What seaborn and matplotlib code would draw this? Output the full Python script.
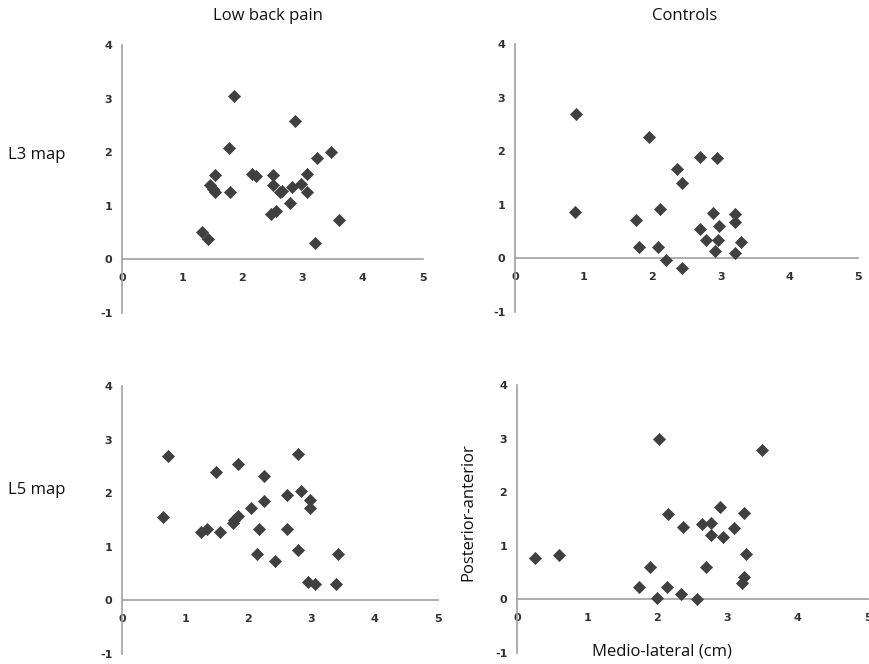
import matplotlib
matplotlib.use("Agg")
import matplotlib.pyplot as plt
import seaborn as sns
import pandas as pd

# medio-lateral (x) and posterior-anterior (y) positions, cm
lbp_l3_x = [1.86, 2.87, 1.78, 3.48, 3.24, 1.55, 2.16, 2.23, 2.51, 3.07, 1.47, 1.51, 1.55, 1.80,
            2.51, 2.62, 2.66, 2.82, 2.98, 3.07, 2.79, 2.48, 2.56, 3.61, 1.33, 1.43, 3.21]
lbp_l3_y = [3.05, 2.59, 2.07, 2.00, 1.89, 1.57, 1.60, 1.56, 1.57, 1.60, 1.39, 1.31, 1.25, 1.26,
            1.39, 1.26, 1.27, 1.36, 1.41, 1.25, 1.05, 0.85, 0.91, 0.73, 0.52, 0.38, 0.31]

ctl_l3_x = [0.89, 0.88, 1.95, 2.70, 2.94, 2.36, 2.44, 2.12, 1.76, 2.88, 3.21, 3.21, 2.70, 2.98,
            2.78, 2.96, 3.29, 1.81, 2.08, 2.92, 3.21, 2.20, 2.44]
ctl_l3_y = [2.69, 0.87, 2.27, 1.90, 1.87, 1.67, 1.40, 0.92, 0.72, 0.85, 0.82, 0.68, 0.55, 0.60,
            0.34, 0.34, 0.31, 0.21, 0.21, 0.14, 0.11, -0.03, -0.17]

lbp_l5_x = [0.72, 0.65, 1.48, 1.84, 2.25, 2.78, 2.84, 2.61, 2.25, 2.97, 2.98, 2.04, 1.84, 1.78,
            1.76, 1.25, 1.35, 1.55, 2.17, 2.61, 2.79, 2.13, 2.42, 3.42, 2.94, 3.05, 3.39]
lbp_l5_y = [2.70, 1.56, 2.39, 2.54, 2.33, 2.73, 2.05, 1.97, 1.86, 1.87, 1.73, 1.73, 1.58, 1.50,
            1.45, 1.27, 1.33, 1.27, 1.33, 1.33, 0.94, 0.86, 0.74, 0.86, 0.35, 0.31, 0.31]

ctl_l5_x = [0.26, 0.60, 2.02, 3.49, 2.89, 2.15, 3.24, 2.36, 2.64, 2.77, 2.76, 2.93, 3.09, 3.26,
            1.89, 2.69, 1.74, 2.14, 2.33, 1.99, 2.57, 3.24, 3.20]
ctl_l5_y = [0.77, 0.83, 3.00, 2.79, 1.73, 1.60, 1.62, 1.36, 1.40, 1.43, 1.21, 1.17, 1.34, 0.85,
            0.61, 0.61, 0.24, 0.24, 0.11, 0.02, 0.00, 0.42, 0.30]

x_ticks = [0, 1, 2, 3, 4, 5]
y_ticks = [-1, 0, 1, 2, 3, 4]

sns.set_style("white")
plt.rcParams["font.family"] = ["Open Sans", "DejaVu Sans"]
plt.rcParams["axes.unicode_minus"] = False

W, H = 870, 664
fig = plt.figure(figsize=(W / 100, H / 100), dpi=100)


def make_axes(x0, x1, ytop, ybot):
    # pixel box of the plotting area -> figure fraction
    return fig.add_axes([x0 / W, 1 - ybot / H, (x1 - x0) / W, (ybot - ytop) / H])


def excel_scatter(ax, xs, ys):
    df = pd.DataFrame({"x": xs, "y": ys})
    sns.scatterplot(data=df, x="x", y="y", ax=ax, marker="D", s=38,
                    color="#404040", edgecolor="#404040", linewidth=0.5,
                    clip_on=False, zorder=3)
    ax.set_xlim(0, 5)
    ax.set_ylim(-1, 4)
    ax.set_xticks(x_ticks)
    ax.set_yticks(y_ticks)
    ax.set_xlabel("")
    ax.set_ylabel("")
    for side in ["top", "right"]:
        ax.spines[side].set_visible(False)
    ax.spines["bottom"].set_position(("data", 0))
    for side in ["left", "bottom"]:
        ax.spines[side].set_color("#a0a0a0")
        ax.spines[side].set_linewidth(1.2)
    ax.tick_params(axis="both", which="both", direction="out", length=3,
                   width=1, color="#a0a0a0", labelsize=8, labelcolor="#303030")
    ax.tick_params(axis="x", pad=7)
    ax.tick_params(axis="y", pad=4)
    for lab in ax.get_xticklabels() + ax.get_yticklabels():
        lab.set_fontweight("bold")
        lab.set_family("DejaVu Sans")
    ax.patch.set_alpha(0)


ax1 = make_axes(122, 423, 45, 313)
excel_scatter(ax1, lbp_l3_x, lbp_l3_y)
ax2 = make_axes(515, 858, 44, 312)
excel_scatter(ax2, ctl_l3_x, ctl_l3_y)
ax3 = make_axes(122, 438, 386, 654)
excel_scatter(ax3, lbp_l5_x, lbp_l5_y)
ax4 = make_axes(517, 868, 385, 653)
excel_scatter(ax4, ctl_l5_x, ctl_l5_y)

fig.text(268 / W, 1 - 16 / H, "Low back pain", ha="center", va="center", fontsize=12, color="#111111")
fig.text(685 / W, 1 - 16 / H, "Controls", ha="center", va="center", fontsize=12, color="#111111")
fig.text(8 / W, 1 - 155 / H, "L3 map", ha="left", va="center", fontsize=12, color="#111111")
fig.text(8 / W, 1 - 490 / H, "L5 map", ha="left", va="center", fontsize=12, color="#111111")
fig.text(468 / W, 1 - 512 / H, "Posterior-anterior", ha="center", va="center", rotation=90,
         fontsize=12, color="#111111")
fig.text(662 / W, 1 - 651 / H, "Medio-lateral (cm)", ha="center", va="center", fontsize=12,
         color="#111111")

fig.savefig("out.png", dpi=100)
